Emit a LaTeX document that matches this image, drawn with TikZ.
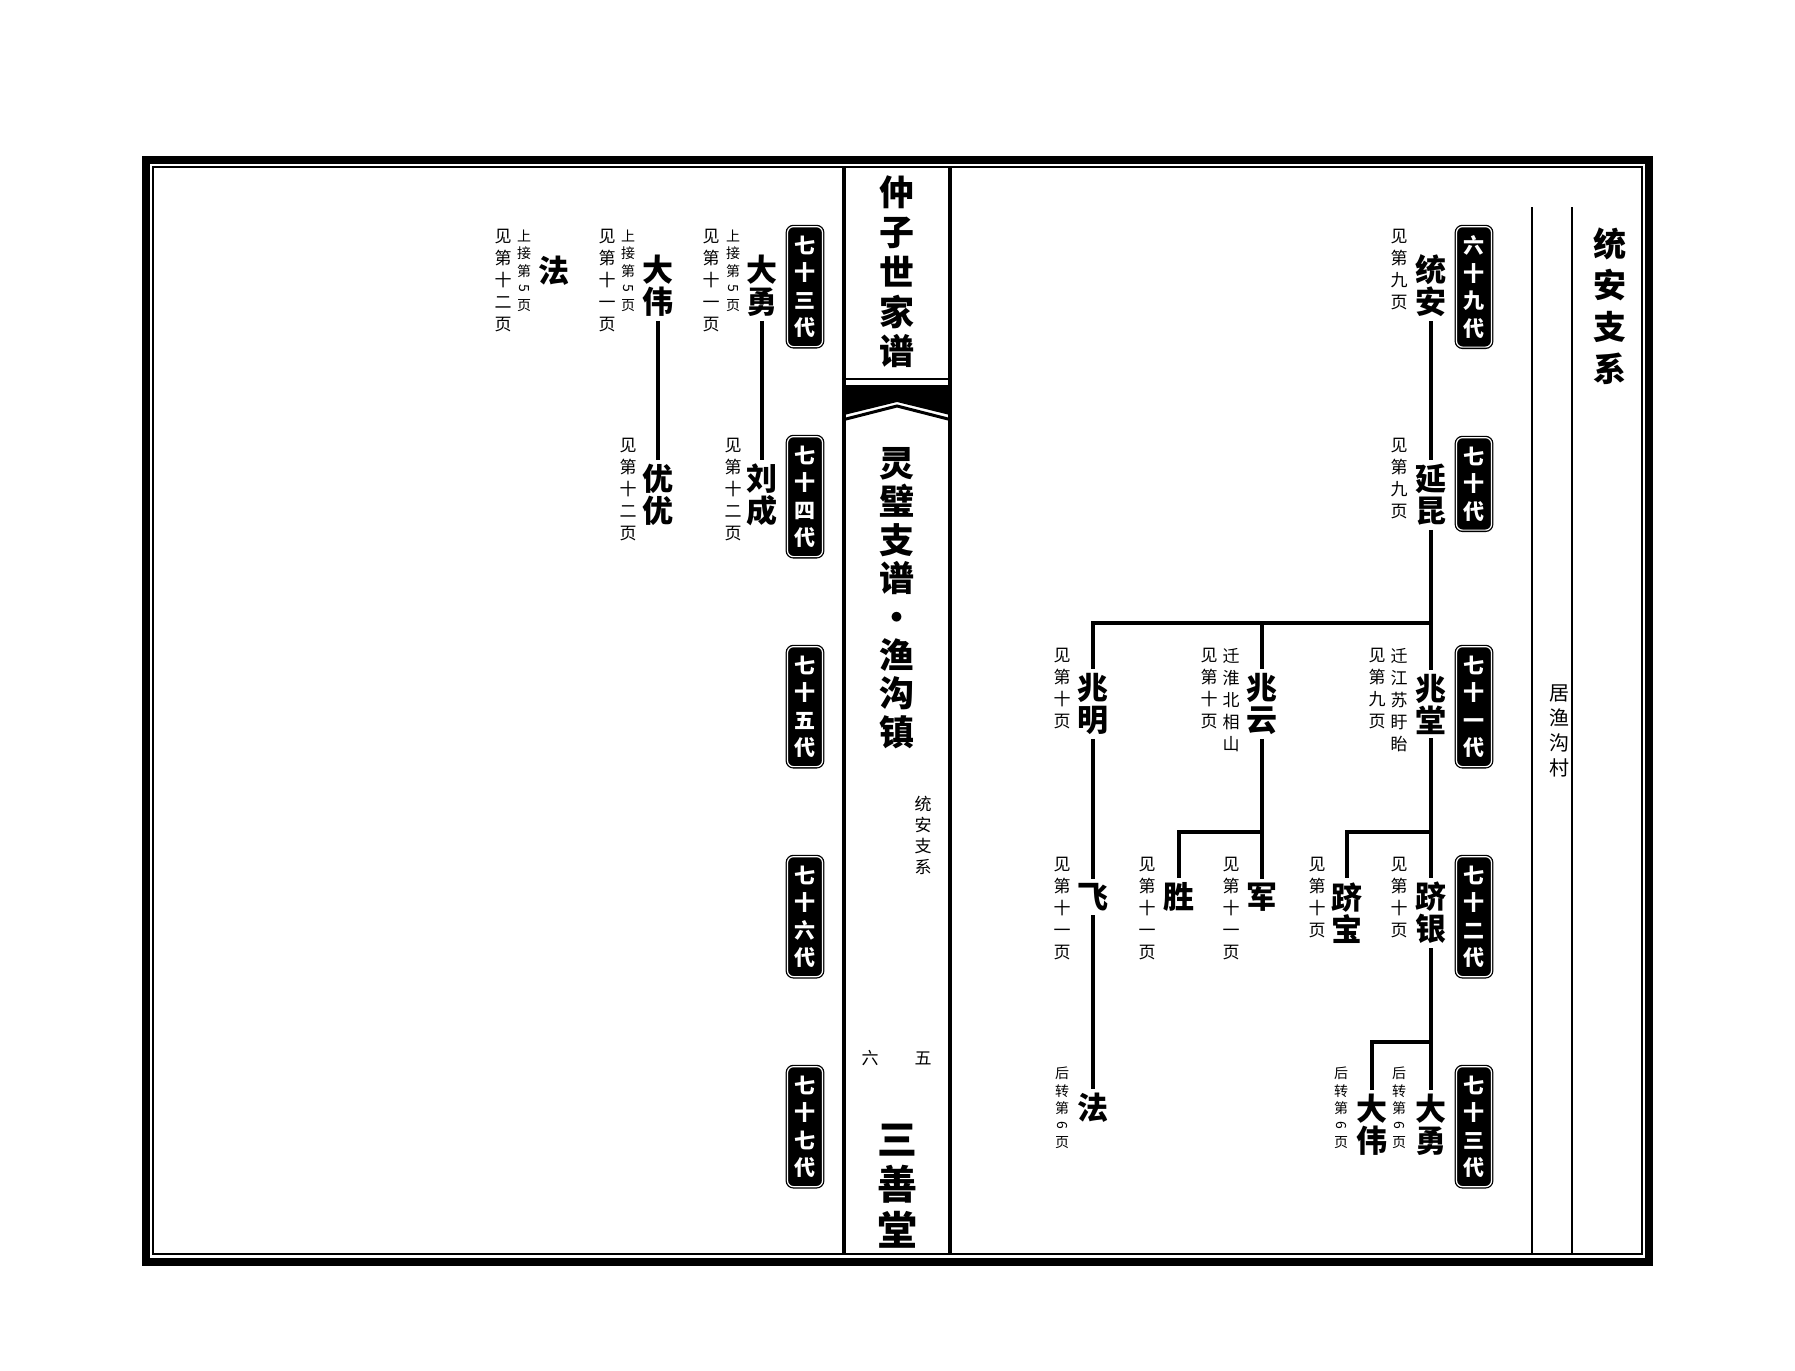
\documentclass[tikz,border=0pt]{standalone}
\usepackage{fontspec}
\usepackage{graphicx}
\newfontfamily\cjk{Noto Sans CJK SC}
\newcommand{\sdig}[1]{\rotatebox[origin=c]{-90}{#1}}

\begin{document}
\begin{tikzpicture}[x=1pt, y=-1pt,
    gen/.style={draw=black, double=white, double distance=1.2pt, line width=1.3pt,
      fill=black, rounded corners=6pt, text=white, align=center,
      font=\cjk\bfseries\fontsize{21}{27.5}\selectfont,
      minimum width=35pt, inner xsep=0pt, inner ysep=9pt, anchor=north},
    person/.style={align=center, inner xsep=1pt, inner ysep=4pt,
      font=\cjk\bfseries\fontsize{31}{32}\selectfont},
    note/.style={align=center, inner sep=0pt, anchor=north,
      font=\cjk\fontsize{17}{22}\selectfont},
    smallnote/.style={align=center, inner sep=0pt, anchor=north,
      font=\cjk\fontsize{14}{17.2}\selectfont},
    link/.style={line width=3.2pt}]
  \fill[white] (0,0) rectangle (1795,1370);
  \useasboundingbox (0,0) rectangle (1795,1370);

  \draw[line width=8pt] (146,160) rectangle (1649,1262);
  \draw[line width=1.5pt] (153,167) rectangle (1642,1254);

  \draw[line width=3.5pt] (844,167) -- (844,1254);
  \draw[line width=3.5pt] (950,167) -- (950,1254);
  \draw[line width=2.5pt] (844,379) -- (950,379);
  \fill (844,385) -- (950,385) -- (950,415) -- (897,402) -- (844,415) -- cycle;
  \draw[line width=3pt] (844,419.5) -- (897,406) -- (950,419.5);

  \node[font=\cjk\bfseries\fontsize{35}{39.8}\selectfont, align=center] (title) at (897,272) {仲\\子\\世\\家\\谱};
  \node[font=\cjk\bfseries\fontsize{35}{38.4}\selectfont, align=center] (place) at (897,598) {灵\\璧\\支\\谱\\·\\渔\\沟\\镇};
  \node[font=\cjk\fontsize{17}{21}\selectfont, align=center] (sub) at (923,835) {统\\安\\支\\系};
  \node[font=\cjk\fontsize{17}{21}\selectfont] (pgl) at (870,1058) {六};
  \node[font=\cjk\fontsize{17}{21}\selectfont] (pgr) at (923,1058) {五};
  \node[font=\cjk\bfseries\fontsize{40}{45.5}\selectfont, align=center] (hall) at (897,1186) {三\\善\\堂};

  \draw[line width=1.5pt] (1532,207) -- (1532,1254);
  \draw[line width=1.5pt] (1572,207) -- (1572,1254);
  \node[font=\cjk\bfseries\fontsize{33}{41.7}\selectfont, align=center] (branch) at (1610,306) {统\\安\\支\\系};
  \node[font=\cjk\fontsize{20}{25}\selectfont, align=center] (home) at (1559,731) {居\\渔\\沟\\村};

  \node[gen] (g69) at (1474,226) {六\\十\\九\\代};
  \node[gen] (g70) at (1474,437) {七\\十\\代};
  \node[gen] (g71) at (1474,646) {七\\十\\一\\代};
  \node[gen] (g72) at (1474,856) {七\\十\\二\\代};
  \node[gen] (g73) at (1474,1066) {七\\十\\三\\代};

  \node[gen] (h73) at (805,226) {七\\十\\三\\代};
  \node[gen] (h74) at (805,436) {七\\十\\四\\代};
  \node[gen] (h75) at (805,646) {七\\十\\五\\代};
  \node[gen] (h76) at (805,856) {七\\十\\六\\代};
  \node[gen] (h77) at (805,1066) {七\\十\\七\\代};

  \node[person] (ta) at (1431,286) {统\\安};
  \node[person] (yk) at (1431,495) {延\\昆};
  \node[person] (zt) at (1431,704) {兆\\堂};
  \node[person] (zy) at (1262,704) {兆\\云};
  \node[person] (zm) at (1093,704) {兆\\明};
  \node[person] (jy) at (1431,913) {跻\\银};
  \node[person] (jb) at (1347,913) {跻\\宝};
  \node[person] (jun) at (1262,897) {军};
  \node[person] (sheng) at (1179,897) {胜};
  \node[person] (fei) at (1093,897) {飞};
  \node[person] (dy) at (1431,1125) {大\\勇};
  \node[person] (dw) at (1372,1125) {大\\伟};
  \node[person] (fa) at (1093,1108) {法};

  \node[note] (nta) at (1399,229) {见\\第\\九\\页};
  \node[note] (nyk) at (1399,438) {见\\第\\九\\页};
  \node[note] (nzt1) at (1399,648) {迁\\江\\苏\\盱\\眙};
  \node[note] (nzt2) at (1377,648) {见\\第\\九\\页};
  \node[note] (nzy1) at (1231,648) {迁\\淮\\北\\相\\山};
  \node[note] (nzy2) at (1209,648) {见\\第\\十\\页};
  \node[note] (nzm) at (1062,648) {见\\第\\十\\页};
  \node[note] (njy) at (1399,857) {见\\第\\十\\页};
  \node[note] (njb) at (1317,857) {见\\第\\十\\页};
  \node[note] (njun) at (1231,857) {见\\第\\十\\一\\页};
  \node[note] (nsheng) at (1147,857) {见\\第\\十\\一\\页};
  \node[note] (nfei) at (1062,857) {见\\第\\十\\一\\页};
  \node[smallnote] (nfa) at (1062,1067) {后\\转\\第\\\sdig{6}\\页};
  \node[smallnote] (ndy) at (1399,1067) {后\\转\\第\\\sdig{6}\\页};
  \node[smallnote] (ndw) at (1341,1067) {后\\转\\第\\\sdig{6}\\页};

  \coordinate (k1) at (1431,623);
  \coordinate (k2) at (1431,832);
  \coordinate (k3) at (1262,832);
  \coordinate (k4) at (1431,1042);
  \draw[link] (ta) -- (yk);
  \draw[link] (yk) -- (zt);
  \draw[link] (k1) -| (zy);
  \draw[link] (k1) -| (zm);
  \draw[link] (zt) -- (jy);
  \draw[link] (k2) -| (jb);
  \draw[link] (zy) -- (jun);
  \draw[link] (k3) -| (sheng);
  \draw[link] (zm) -- (fei);
  \draw[link] (fei) -- (fa);
  \draw[link] (jy) -- (dy);
  \draw[link] (k4) -| (dw);

  \node[person] (ldy) at (762,286) {大\\勇};
  \node[person] (lc) at (762,495) {刘\\成};
  \node[person] (ldw) at (658,286) {大\\伟};
  \node[person] (yy) at (658,495) {优\\优};
  \node[person] (lfa) at (554,271) {法};

  \node[smallnote] (nldy1) at (733,230) {上\\接\\第\\\sdig{5}\\页};
  \node[note] (nldy2) at (711,229) {见\\第\\十\\一\\页};
  \node[note] (nlc) at (733,438) {见\\第\\十\\二\\页};
  \node[smallnote] (nldw1) at (628,230) {上\\接\\第\\\sdig{5}\\页};
  \node[note] (nldw2) at (607,229) {见\\第\\十\\一\\页};
  \node[note] (nyy) at (628,438) {见\\第\\十\\二\\页};
  \node[smallnote] (nlfa1) at (524,230) {上\\接\\第\\\sdig{5}\\页};
  \node[note] (nlfa2) at (503,229) {见\\第\\十\\二\\页};

  \draw[link] (ldy) -- (lc);
  \draw[link] (ldw) -- (yy);
\end{tikzpicture}
\end{document}
